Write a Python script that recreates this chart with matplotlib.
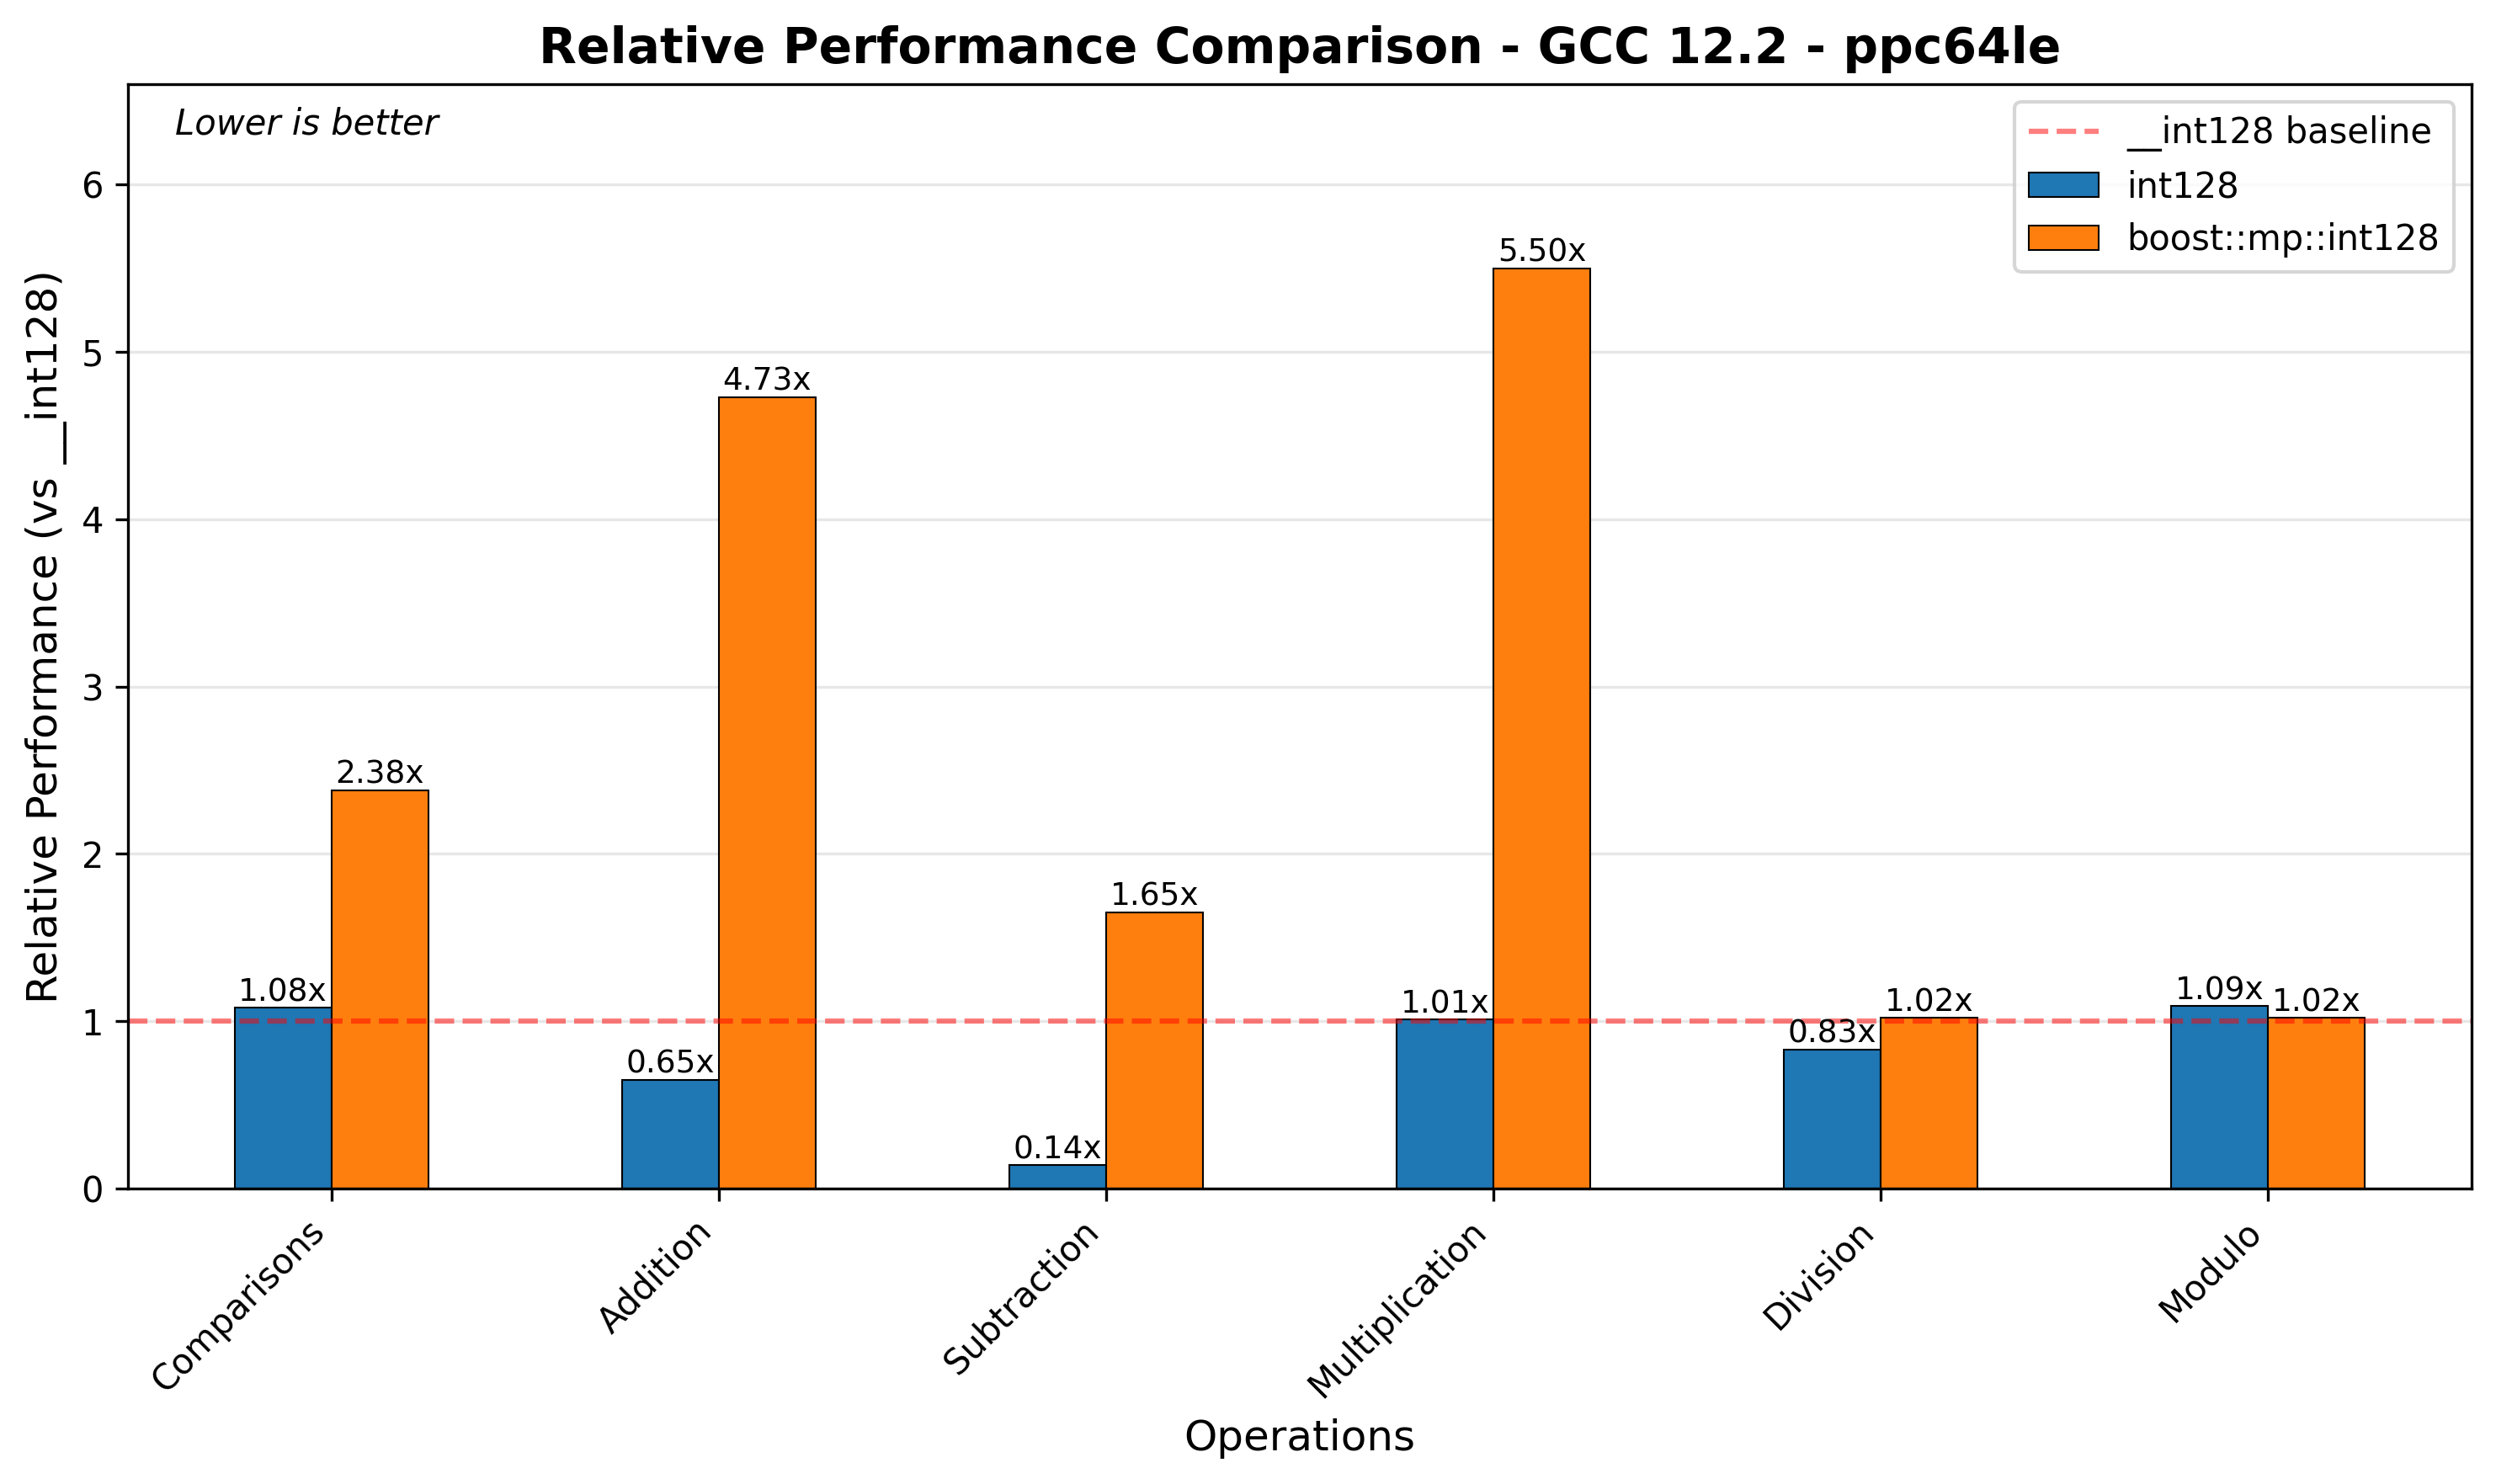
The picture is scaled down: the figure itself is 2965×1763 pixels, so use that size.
import numpy as np
import matplotlib.pyplot as plt

# relative runtime vs __int128 (lower is better)
operations = ['Comparisons', 'Addition', 'Subtraction', 'Multiplication', 'Division', 'Modulo']
int128_vals = [1.08, 0.65, 0.14, 1.01, 0.83, 1.09]
boost_vals = [2.38, 4.73, 1.65, 5.50, 1.02, 1.02]
series_names = ['int128', 'boost::mp::int128']

fig, ax = plt.subplots(figsize=(2965 / 300, 1763 / 300))
fig.subplots_adjust(left=0.0513, right=0.9902, top=0.9433, bottom=0.1991)

x = np.arange(len(operations))
width = 0.25

base = ax.axhline(1.0, color='red', linestyle='--', alpha=0.5, linewidth=1.5,
                  label='__int128 baseline')
bars1 = ax.bar(x - width / 2, int128_vals, width, label=series_names[0],
               color='#1f77b4', edgecolor='black', linewidth=0.5)
bars2 = ax.bar(x + width / 2, boost_vals, width, label=series_names[1],
               color='#ff7f0e', edgecolor='black', linewidth=0.5)

for bars in (bars1, bars2):
    for b in bars:
        h = b.get_height()
        ax.text(b.get_x() + b.get_width() / 2, h, f'{h:.2f}x',
                ha='center', va='bottom', fontsize=9)

ax.set_ylim(0, max(boost_vals) * 1.2)
ax.set_xticks(x)
ax.set_xticklabels(operations, rotation=45, ha='right')
ax.set_xlabel('Operations', fontsize=12)
ax.set_ylabel('Relative Performance (vs __int128)', fontsize=12)
ax.set_title('Relative Performance Comparison - GCC 12.2 - ppc64le',
             fontsize=14, fontweight='bold')
ax.grid(axis='y', alpha=0.3)
ax.set_axisbelow(True)

ax.text(0.02, 0.98, 'Lower is better', transform=ax.transAxes,
        fontsize=10, style='italic', va='top')

ax.legend(handles=[base, bars1, bars2],
          labels=['__int128 baseline'] + series_names, loc='upper right')

fig.savefig('out.png', dpi=300)
